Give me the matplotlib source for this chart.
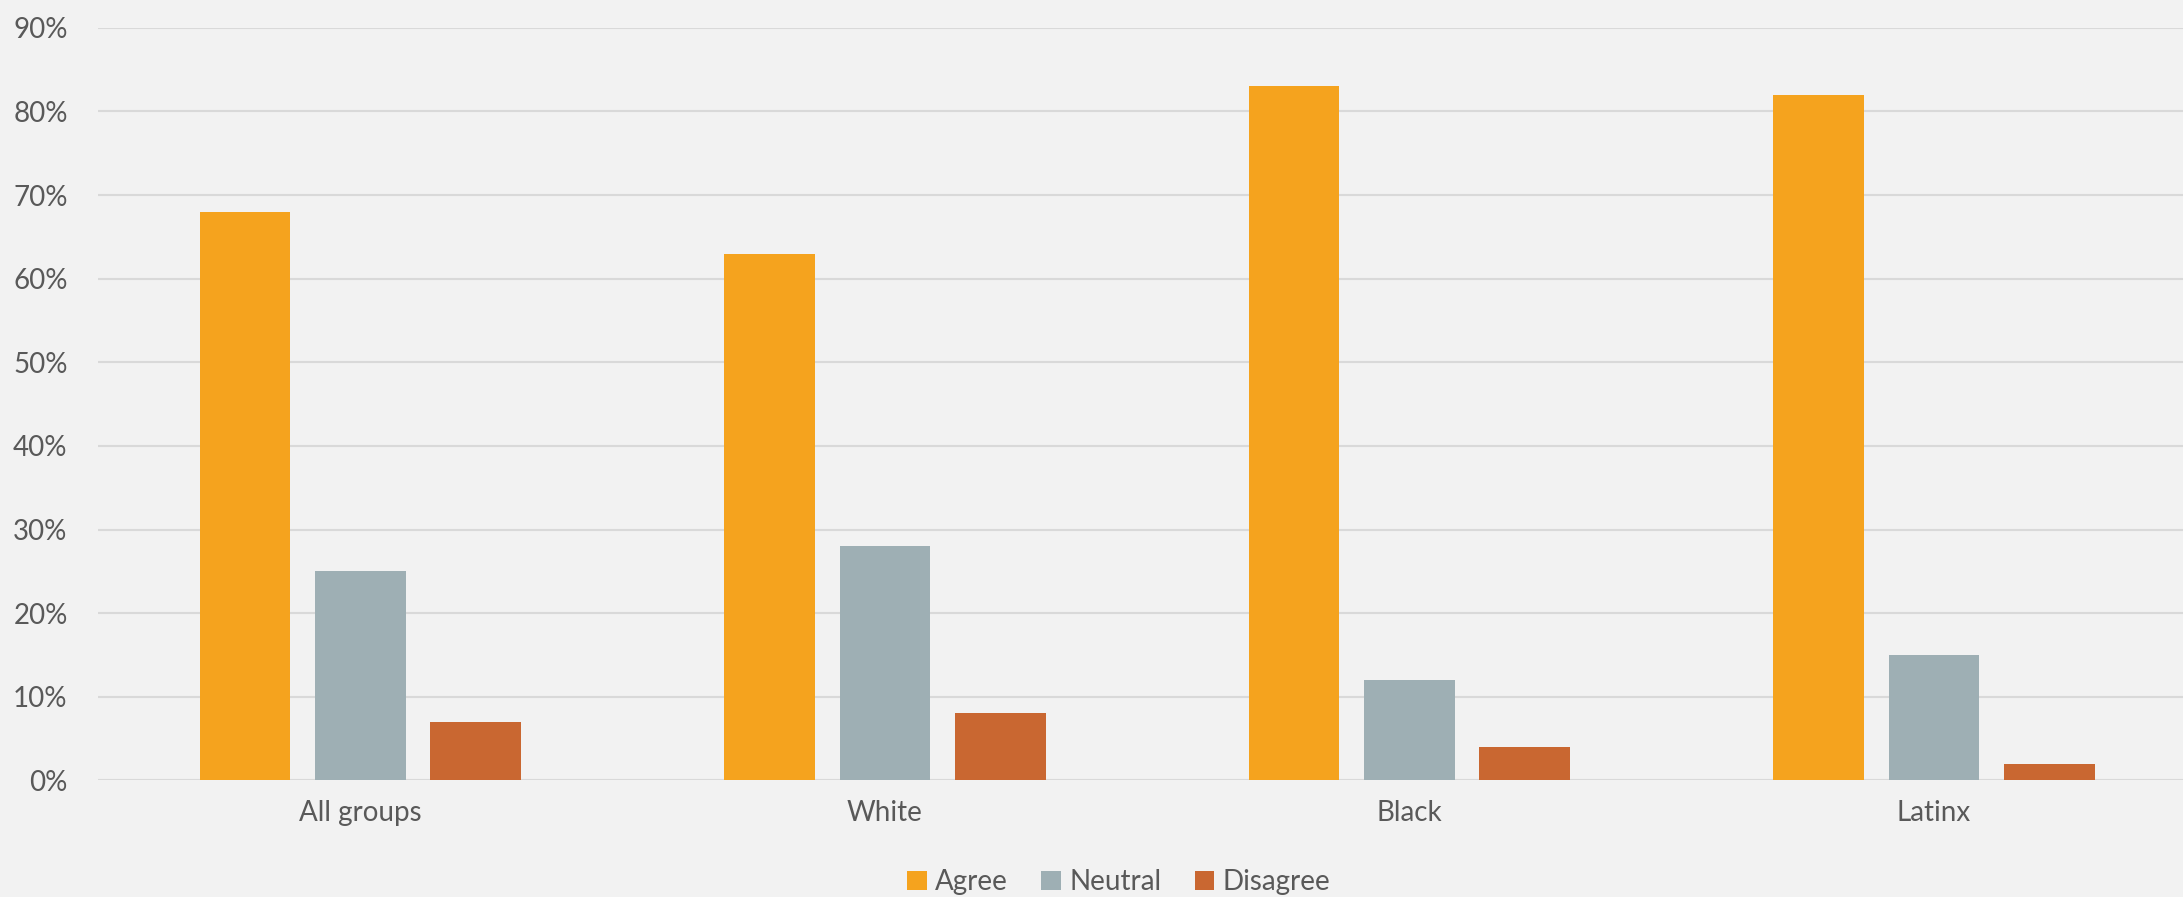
import matplotlib
matplotlib.use("Agg")
import matplotlib.pyplot as plt
import numpy as np
from matplotlib.ticker import FuncFormatter

# survey data
groups   = ["All groups", "White", "Black", "Latinx"]
agree    = [68, 63, 83, 82]
neutral  = [25, 28, 12, 15]
disagree = [7, 8, 4, 2]

series = [("Agree", agree, "#F5A31E"),
          ("Neutral", neutral, "#9EAFB4"),
          ("Disagree", disagree, "#C96731")]

plt.rcParams['font.family'] = ['Lato', 'DejaVu Sans']
text_col = "#595959"
bg = "#F2F2F2"

fig = plt.figure(figsize=(21.83, 8.97), dpi=100, facecolor=bg)
ax = fig.add_axes([0.045, 0.130, 0.955, 0.839], facecolor=bg)

x = np.arange(len(groups))
width = 0.173
step = 0.22
for i, (name, vals, col) in enumerate(series):
    ax.bar(x + (i - 1) * step, np.array(vals) / 100.0, width, color=col,
           label=name, zorder=3)

ax.set_xlim(-0.5, 3.475)
ax.set_ylim(0, 0.9)
ax.set_yticks(np.arange(0, 0.91, 0.1))
ax.yaxis.set_major_formatter(FuncFormatter(lambda v, p: "%d%%" % round(v * 100)))
ax.set_xticks(x)
ax.set_xticklabels(groups)
ax.grid(axis='y', color="#D9D9D9", linewidth=1.5, zorder=0)
for s in ax.spines.values():
    s.set_visible(False)
ax.tick_params(axis='both', length=0, labelsize=20, colors=text_col)
ax.tick_params(axis='y', pad=22)
ax.tick_params(axis='x', pad=14)

leg = ax.legend(loc='upper center', bbox_to_anchor=(0.4895, -0.085), ncol=3,
                frameon=False, fontsize=20, handlelength=0.7, handleheight=0.7,
                handletextpad=0.3, columnspacing=1.2)
for t in leg.get_texts():
    t.set_color(text_col)

fig.savefig("out.png", dpi=100, facecolor=bg)
